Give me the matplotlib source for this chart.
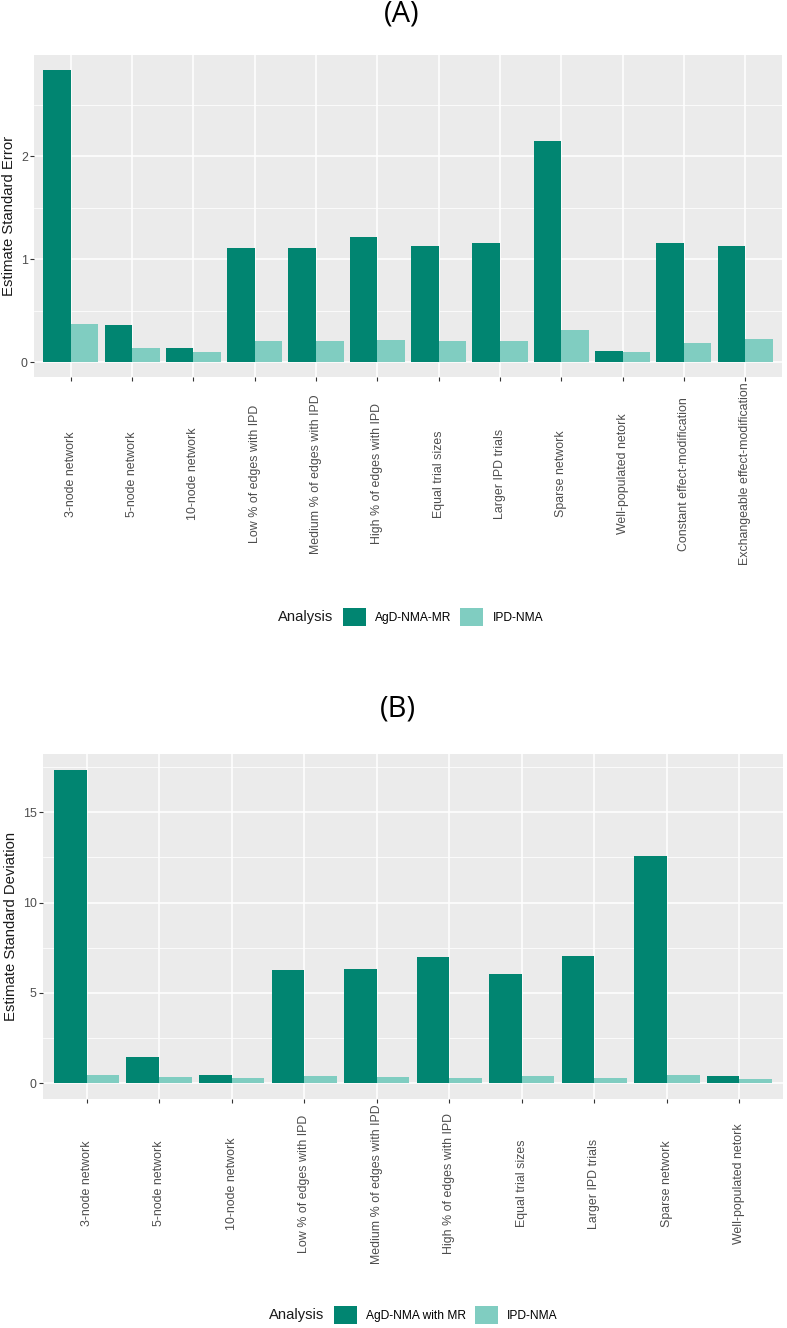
import numpy as np
import matplotlib.pyplot as plt
from matplotlib.patches import Patch
from matplotlib import font_manager

plt.rcParams['font.family'] = ['Liberation Sans', 'DejaVu Sans']

# --- data ---
scenarios_a = ['3-node network', '5-node network', '10-node network',
               'Low % of edges with IPD', 'Medium % of edges with IPD',
               'High % of edges with IPD', 'Equal trial sizes', 'Larger IPD trials',
               'Sparse network', 'Well-populated netork',
               'Constant effect-modification', 'Exchangeable effect-modification']
agd_se = [2.84, 0.363, 0.136, 1.113, 1.107, 1.22, 1.13, 1.159, 2.143, 0.107, 1.155, 1.133]
ipd_se = [0.369, 0.14, 0.104, 0.204, 0.204, 0.217, 0.208, 0.208, 0.311, 0.097, 0.191, 0.223]

scenarios_b = scenarios_a[:10]
agd_sd = [17.36, 1.44, 0.46, 6.25, 6.34, 6.98, 6.03, 7.04, 12.57, 0.41]
ipd_sd = [0.44, 0.33, 0.28, 0.41, 0.35, 0.29, 0.41, 0.29, 0.46, 0.24]

legend_a = ['AgD-NMA-MR', 'IPD-NMA']
legend_b = ['AgD-NMA with MR', 'IPD-NMA']

DARK = '#018571'
LIGHT = '#80cdc1'
W, H = 787, 1328

# legend text in the original is a narrow sans; use it if present
names = {f.name for f in font_manager.fontManager.ttflist}
if 'Liberation Sans Narrow' in names:
    LEG_FAMILY, LEG_SCALE = 'Liberation Sans Narrow', 1.0
else:
    LEG_FAMILY, LEG_SCALE = 'Liberation Sans', 0.82

fig = plt.figure(figsize=(W / 100, H / 100), dpi=100)


def px_axes(l, t, r, b):
    return fig.add_axes([l / W, 1 - b / H, (r - l) / W, (b - t) / H])


def draw_panel(ax, labels, agd, ipd, ymajor, yminor, label_center):
    x = np.arange(len(labels))
    ax.bar(x - 0.225, agd, 0.45, color=DARK, linewidth=0)
    ax.bar(x + 0.225, ipd, 0.45, color=LIGHT, linewidth=0)
    top = max(max(agd), max(ipd))
    ax.set_ylim(-0.05 * top, 1.05 * top)
    ax.set_xlim(-0.6, len(labels) - 0.4)
    ax.set_facecolor('#EBEBEB')
    ax.set_axisbelow(True)
    for s in ax.spines.values():
        s.set_visible(False)
    ax.set_yticks(ymajor)
    ax.set_yticks(yminor, minor=True)
    ax.grid(which='major', color='white', lw=1.1)
    ax.grid(which='minor', axis='y', color='white', lw=0.55)
    ax.set_xticks(x, labels, rotation=90, va='center', ha='center')
    ax.tick_params(which='minor', length=0)
    ax.tick_params(axis='both', which='major', length=2.9, width=0.8,
                   color='#333333', labelcolor='#4D4D4D', labelsize=8.9)
    ax.tick_params(axis='y', pad=1.6)
    ax.tick_params(axis='x', pad=label_center * 0.72 - 2.9)


# panel A
ax_a = px_axes(34, 55, 782, 377)
draw_panel(ax_a, scenarios_a, agd_se, ipd_se, [0, 1, 2], [0.5, 1.5, 2.5], 97)
fig.text(9 / W, 1 - 216 / H, 'Estimate Standard Error', rotation=90,
         ha='center', va='center', fontsize=10.7, color='#1A1A1A')
fig.text(402 / W, 1 - 14 / H, '(A)', ha='center', va='center',
         fontsize=21, family='Open Sans')

# panel B
ax_b = px_axes(43, 754, 783, 1099)
draw_panel(ax_b, scenarios_b, agd_sd, ipd_sd, [0, 5, 10, 15], [2.5, 7.5, 12.5, 17.5], 84.7)
fig.text(11 / W, 1 - 926 / H, 'Estimate Standard Deviation', rotation=90,
         ha='center', va='center', fontsize=10.7, color='#1A1A1A')
fig.text(398 / W, 1 - 709 / H, '(B)', ha='center', va='center',
         fontsize=21, family='Open Sans')


def add_legend(labels, title_x, swatch_x, y):
    handles = [Patch(facecolor=DARK, edgecolor='none'),
               Patch(facecolor=LIGHT, edgecolor='none')]
    fs = 10.5 * LEG_SCALE
    fig.legend(handles, labels, ncol=2, loc='center left',
               bbox_to_anchor=(swatch_x / W, 1 - y / H), frameon=False,
               prop={'family': LEG_FAMILY, 'size': fs},
               handlelength=23 / (fs / 0.72), handleheight=22 / (fs / 0.72),
               handletextpad=9 / (fs / 0.72), columnspacing=9 / (fs / 0.72),
               borderpad=0, borderaxespad=0)
    fig.text(title_x / W, 1 - y / H, 'Analysis', ha='left', va='center',
             fontsize=13 * LEG_SCALE, family=LEG_FAMILY, color='#1A1A1A')


add_legend(legend_a, 278, 343, 617)
add_legend(legend_b, 269, 334, 1315)

fig.savefig('out.png', dpi=100)
